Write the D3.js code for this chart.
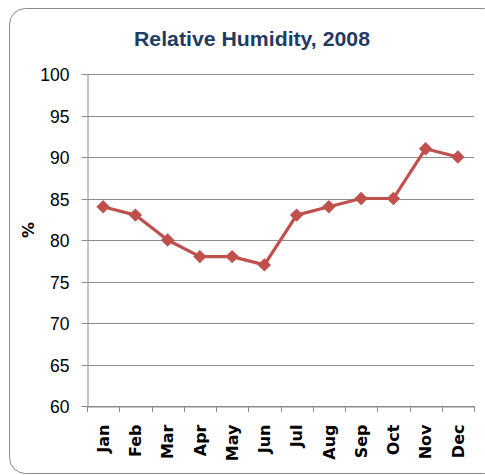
<!DOCTYPE html>
<html><head><meta charset="utf-8">
<script src="https://cdn.jsdelivr.net/npm/d3@7"></script>
<style>body{margin:0;background:#fff}svg{display:block}</style>
</head><body>
<script>
const months = ["Jan","Feb","Mar","Apr","May","Jun","Jul","Aug","Sep","Oct","Nov","Dec"];
const humidity = [84,83,80,78,78,77,83,84,85,85,91,90];
const yTicks = [60,65,70,75,80,85,90,95,100];
const title = "Relative Humidity, 2008";
const yLabel = "%";

const W = 485, H = 475;
const svg = d3.select("body").append("svg").attr("width", W).attr("height", H);

svg.append("rect").attr("x", 9.5).attr("y", 8.5).attr("width", 490).attr("height", 465)
  .attr("rx", 16).attr("fill", "#fff").attr("stroke", "#8a8a8a").attr("stroke-width", 1);

const m = {l: 87, r: 474, t: 74, b: 406};
const x = d3.scaleBand().domain(months).range([m.l, m.r]);
const y = d3.scaleLinear().domain([60, 100]).range([m.b, m.t]);

// grid
svg.append("g").selectAll("line").data(yTicks).join("line")
  .attr("x1", m.l).attr("x2", m.r)
  .attr("y1", d => Math.round(y(d)) + 0.5).attr("y2", d => Math.round(y(d)) + 0.5)
  .attr("stroke", "#8c8c8c").attr("stroke-width", 1);

// y axis
const ya = svg.append("g").attr("transform", `translate(${m.l + 0.5},0)`)
  .call(d3.axisLeft(y).tickValues(yTicks).tickSize(6).tickSizeOuter(0).tickPadding(12));
ya.select(".domain").attr("stroke", "#8c8c8c");
ya.selectAll(".tick line").attr("stroke", "#8c8c8c");
ya.selectAll(".tick").attr("transform", d => `translate(0,${Math.round(y(d)) + 0.5})`);
ya.selectAll("text").attr("font-family", "Liberation Sans, Arial, sans-serif")
  .attr("font-size", 17.5).attr("fill", "#000").attr("dy", "0.36em");

// x axis
const xa = svg.append("g").attr("transform", `translate(0,${Math.round(y(60)) + 0.5})`)
  .call(d3.axisBottom(x).tickSize(0).tickSizeOuter(0));
xa.select(".domain").attr("stroke", "#8c8c8c");
xa.selectAll(".tick line").remove();
xa.selectAll("text")
  .attr("font-family", "DejaVu Sans, sans-serif").attr("font-weight", "bold").attr("font-size", 16)
  .attr("fill", "#000")
  .attr("transform", "rotate(-90)")
  .attr("text-anchor", "end").attr("x", -18).attr("y", 0).attr("dy", "0.36em");
// category separator ticks
svg.append("g").selectAll("line").data(d3.range(months.length + 1)).join("line")
  .attr("x1", i => Math.round(m.l + i * x.bandwidth()) + 0.5)
  .attr("x2", i => Math.round(m.l + i * x.bandwidth()) + 0.5)
  .attr("y1", Math.round(y(60))).attr("y2", Math.round(y(60)) + 6)
  .attr("stroke", "#8c8c8c");

// line
const cx = d => x(d) + x.bandwidth() / 2;
svg.append("path").datum(months.map((mo, i) => [cx(mo), y(humidity[i])]))
  .attr("d", d3.line()).attr("fill", "none").attr("stroke", "#C0504D").attr("stroke-width", 3.2)
  .attr("stroke-linejoin", "round");
svg.append("g").selectAll("path").data(months).join("path")
  .attr("transform", (mo, i) => `translate(${cx(mo)},${y(humidity[i])}) rotate(45)`)
  .attr("d", d3.symbol(d3.symbolSquare, 90))
  .attr("fill", "#C0504D");

// title
svg.append("text").attr("x", 252).attr("y", 45.5).attr("text-anchor", "middle")
  .attr("font-family", "Liberation Sans, Arial, sans-serif").attr("font-weight", "bold").attr("font-size", 20.5)
  .attr("fill", "#1F3B63").attr("textLength", 236).attr("lengthAdjust", "spacingAndGlyphs").text(title);

// y label
svg.append("text").attr("transform", "translate(34,230) rotate(-90)").attr("text-anchor", "middle")
  .attr("font-family", "DejaVu Sans, sans-serif").attr("font-weight", "bold").attr("font-size", 16)
  .attr("fill", "#000").text(yLabel);
</script>
</body></html>
